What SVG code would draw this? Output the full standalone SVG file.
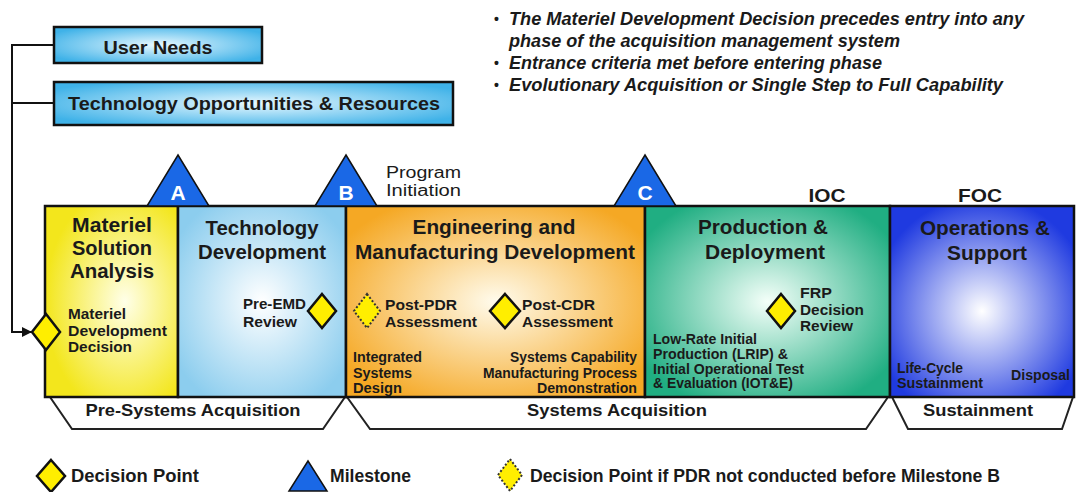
<svg xmlns="http://www.w3.org/2000/svg" width="1077" height="492" viewBox="0 0 1077 492">
<style>
text{font-family:"Liberation Sans",Arial,sans-serif;fill:#1a1a1a}
.t{font-weight:bold;font-size:20px;text-anchor:middle}
.s{font-weight:bold;font-size:14px}
.b{font-weight:bold;font-style:italic;font-size:18px}
.bu{font-weight:bold;font-size:14px}
.lg{font-weight:bold;font-size:18px}
.ph{stroke:#111;stroke-width:2.5}
.dp{fill:#ffee00;stroke:#111;stroke-width:2.5}
.dd{fill:#ffee00;stroke:#333;stroke-width:2;stroke-dasharray:2 2}
.ms{fill:#1a68e6;stroke:#111;stroke-width:1.5}
.ml{font-weight:bold;font-size:21px;fill:#fff;text-anchor:middle}
.tz{fill:#fff;stroke:#222;stroke-width:2}
.bl{font-weight:bold;font-size:17px;text-anchor:middle}
.cn{fill:none;stroke:#111;stroke-width:2}
.tb{stroke:#111;stroke-width:2.5}
</style>
<defs>
<radialGradient id="gTop" cx="0.5" cy="0.5" r="0.6"><stop offset="0" stop-color="#e8f8ff"/><stop offset="1" stop-color="#3fb2e8"/></radialGradient>
<radialGradient id="gMSA" cx="0.6" cy="0.5" r="0.6"><stop offset="0" stop-color="#ffffe8"/><stop offset="1" stop-color="#f3e61c"/></radialGradient>
<radialGradient id="gTD" cx="0.5" cy="0.5" r="0.6"><stop offset="0" stop-color="#ffffff"/><stop offset="1" stop-color="#8ccdee"/></radialGradient>
<radialGradient id="gEMD" cx="0.5" cy="0.5" r="0.6"><stop offset="0" stop-color="#fffbec"/><stop offset="1" stop-color="#f5a824"/></radialGradient>
<radialGradient id="gPD" cx="0.5" cy="0.5" r="0.6"><stop offset="0" stop-color="#f4fff9"/><stop offset="1" stop-color="#20ae82"/></radialGradient>
<radialGradient id="gOS" cx="0.5" cy="0.55" r="0.6"><stop offset="0" stop-color="#ffffff"/><stop offset="1" stop-color="#1f3ae0"/></radialGradient>
<marker id="arr" viewBox="0 0 10 10" refX="9" refY="5" markerWidth="5" markerHeight="5" orient="auto"><path d="M0,0 L10,5 L0,10 z" fill="#111"/></marker>
</defs>
<rect width="1077" height="492" fill="#fff"/>

<g id="bullets">
<text class="bu" x="494" y="24">•</text>
<text class="b" x="509" y="25" textLength="515" lengthAdjust="spacingAndGlyphs">The Materiel Development Decision precedes entry into any</text>
<text class="b" x="509" y="47" textLength="391" lengthAdjust="spacingAndGlyphs">phase of the acquisition management system</text>
<text class="bu" x="494" y="68">•</text>
<text class="b" x="509" y="69" textLength="373" lengthAdjust="spacingAndGlyphs">Entrance criteria met before entering phase</text>
<text class="bu" x="494" y="90">•</text>
<text class="b" x="509" y="91" textLength="494" lengthAdjust="spacingAndGlyphs">Evolutionary Acquisition or Single Step to Full Capability</text>
</g>

<g id="connectors">
<polyline class="cn" points="54,45 12,45 12,332 31,332" marker-end="url(#arr)"/>
<line class="cn" x1="12" y1="103" x2="54" y2="103"/>
</g>

<g id="user-needs">
<rect class="tb" x="54" y="27" width="208" height="36" fill="url(#gTop)"/>
<text x="158" y="54" font-size="18" font-weight="bold" text-anchor="middle" textLength="109" lengthAdjust="spacingAndGlyphs">User Needs</text>
</g>
<g id="tech-opps">
<rect class="tb" x="54" y="82" width="399" height="43" fill="url(#gTop)"/>
<text x="254" y="110" font-size="18" font-weight="bold" text-anchor="middle" textLength="372" lengthAdjust="spacingAndGlyphs">Technology Opportunities &amp; Resources</text>
</g>

<g id="pre-systems">
<polygon class="tz" points="50,397 345,397 323,429 72,429"/>
<text class="bl" x="193" y="416" textLength="215" lengthAdjust="spacingAndGlyphs">Pre-Systems Acquisition</text>
</g>
<g id="systems-acq">
<polygon class="tz" points="347,397 888,397 866,429 370,429"/>
<text class="bl" x="617" y="416" textLength="180" lengthAdjust="spacingAndGlyphs">Systems Acquisition</text>
</g>
<g id="sustainment">
<polygon class="tz" points="892,397 1073,397 1062,429 908,429"/>
<text class="bl" x="978" y="416" textLength="110" lengthAdjust="spacingAndGlyphs">Sustainment</text>
</g>

<g id="msa">
<rect class="ph" x="45" y="206" width="133" height="191" fill="url(#gMSA)"/>
<text class="t" x="112" y="232" textLength="80" lengthAdjust="spacingAndGlyphs">Materiel</text>
<text class="t" x="112" y="255" textLength="80" lengthAdjust="spacingAndGlyphs">Solution</text>
<text class="t" x="112" y="278" textLength="84" lengthAdjust="spacingAndGlyphs">Analysis</text>
<text class="s" x="68" y="319" fill="#2e2e10" textLength="58" lengthAdjust="spacingAndGlyphs">Materiel</text>
<text class="s" x="68" y="336" fill="#2e2e10" textLength="99" lengthAdjust="spacingAndGlyphs">Development</text>
<text class="s" x="68" y="352" fill="#2e2e10" textLength="64" lengthAdjust="spacingAndGlyphs">Decision</text>
</g>
<g id="td">
<rect class="ph" x="178" y="206" width="168" height="191" fill="url(#gTD)"/>
<text class="t" x="262" y="235" textLength="113" lengthAdjust="spacingAndGlyphs">Technology</text>
<text class="t" x="262" y="259" textLength="128" lengthAdjust="spacingAndGlyphs">Development</text>
<text class="s" x="243" y="309" textLength="63" lengthAdjust="spacingAndGlyphs">Pre-EMD</text>
<text class="s" x="243" y="327" textLength="54" lengthAdjust="spacingAndGlyphs">Review</text>
</g>
<g id="emd">
<rect class="ph" x="346" y="206" width="299" height="191" fill="url(#gEMD)"/>
<text class="t" x="494" y="234" textLength="163" lengthAdjust="spacingAndGlyphs">Engineering and</text>
<text class="t" x="495" y="259" textLength="280" lengthAdjust="spacingAndGlyphs">Manufacturing Development</text>
<text class="s" x="385" y="310" textLength="72" lengthAdjust="spacingAndGlyphs">Post-PDR</text>
<text class="s" x="385" y="327" textLength="92" lengthAdjust="spacingAndGlyphs">Assessment</text>
<text class="s" x="522" y="310" textLength="73" lengthAdjust="spacingAndGlyphs">Post-CDR</text>
<text class="s" x="522" y="327" textLength="91" lengthAdjust="spacingAndGlyphs">Assessment</text>
<text class="s" x="353" y="362" font-size="13" textLength="69" lengthAdjust="spacingAndGlyphs">Integrated</text>
<text class="s" x="353" y="378" font-size="13" textLength="59" lengthAdjust="spacingAndGlyphs">Systems</text>
<text class="s" x="353" y="393" font-size="13" textLength="49" lengthAdjust="spacingAndGlyphs">Design</text>
<text class="s" x="637" y="362" font-size="13" text-anchor="end" textLength="127" lengthAdjust="spacingAndGlyphs">Systems Capability</text>
<text class="s" x="637" y="378" font-size="13" text-anchor="end" textLength="154" lengthAdjust="spacingAndGlyphs">Manufacturing Process</text>
<text class="s" x="637" y="393" font-size="13" text-anchor="end" textLength="100" lengthAdjust="spacingAndGlyphs">Demonstration</text>
</g>
<g id="pd">
<rect class="ph" x="645" y="206" width="245" height="191" fill="url(#gPD)"/>
<text class="t" x="763" y="234" textLength="130" lengthAdjust="spacingAndGlyphs">Production &amp;</text>
<text class="t" x="765" y="259" textLength="120" lengthAdjust="spacingAndGlyphs">Deployment</text>
<text class="s" x="800" y="298" textLength="32" lengthAdjust="spacingAndGlyphs">FRP</text>
<text class="s" x="800" y="315" textLength="64" lengthAdjust="spacingAndGlyphs">Decision</text>
<text class="s" x="800" y="331" textLength="53" lengthAdjust="spacingAndGlyphs">Review</text>
<text class="s" x="653" y="344" font-size="13" fill="#14402e" textLength="104" lengthAdjust="spacingAndGlyphs">Low-Rate Initial</text>
<text class="s" x="653" y="359" font-size="13" fill="#14402e" textLength="135" lengthAdjust="spacingAndGlyphs">Production  (LRIP) &amp;</text>
<text class="s" x="653" y="374" font-size="13" fill="#14402e" textLength="151" lengthAdjust="spacingAndGlyphs">Initial Operational Test</text>
<text class="s" x="653" y="388" font-size="13" fill="#14402e" textLength="140" lengthAdjust="spacingAndGlyphs">&amp; Evaluation (IOT&amp;E)</text>
</g>
<g id="os">
<rect class="ph" x="890" y="206" width="184" height="191" fill="url(#gOS)"/>
<text class="t" x="985" y="235" fill="#10104a" textLength="130" lengthAdjust="spacingAndGlyphs">Operations &amp;</text>
<text class="t" x="987" y="260" textLength="80" lengthAdjust="spacingAndGlyphs">Support</text>
<text class="s" x="897" y="373" font-size="13" fill="#101050" textLength="66" lengthAdjust="spacingAndGlyphs">Life-Cycle</text>
<text class="s" x="897" y="388" font-size="13" fill="#101050" textLength="86" lengthAdjust="spacingAndGlyphs">Sustainment</text>
<text class="s" x="1070" y="380" font-size="13" fill="#101050" text-anchor="end" textLength="59" lengthAdjust="spacingAndGlyphs">Disposal</text>
</g>

<g id="decision-points">
<polygon class="dp" points="46,314 60,332 46,350 32,332"/>
<polygon class="dp" points="322,294 336,311 322,328 308,311"/>
<polygon class="dd" points="367,294 380,311 367,328 354,311"/>
<polygon class="dp" points="505,294 520,311 505,328 490,311"/>
<polygon class="dp" points="781,294 795,311 781,328 767,311"/>
</g>

<g id="milestone-a">
<polygon class="ms" points="178,155 209,206 147,206"/>
<text class="ml" x="178" y="200">A</text>
</g>
<g id="milestone-b">
<polygon class="ms" points="346,155 377,206 315,206"/>
<text class="ml" x="346" y="200">B</text>
<text x="386" y="178" font-size="16" textLength="75" lengthAdjust="spacingAndGlyphs">Program</text>
<text x="386" y="196" font-size="16" textLength="75" lengthAdjust="spacingAndGlyphs">Initiation</text>
</g>
<g id="milestone-c">
<polygon class="ms" points="645,155 676,206 614,206"/>
<text class="ml" x="645" y="200">C</text>
</g>
<g id="ioc"><text x="827" y="202" font-size="19" font-weight="bold" text-anchor="middle" textLength="37" lengthAdjust="spacingAndGlyphs">IOC</text></g>
<g id="foc"><text x="980" y="202" font-size="19" font-weight="bold" text-anchor="middle" textLength="44" lengthAdjust="spacingAndGlyphs">FOC</text></g>

<g id="legend">
<polygon class="dp" points="51,460 65,476 51,492 37,476"/>
<text class="lg" x="71" y="482" textLength="128" lengthAdjust="spacingAndGlyphs">Decision Point</text>
<polygon class="ms" points="308,461 327,491 289,491"/>
<text class="lg" x="330" y="482" textLength="81" lengthAdjust="spacingAndGlyphs">Milestone</text>
<polygon class="dd" points="510,459 522,475 510,491 498,475"/>
<text class="lg" x="530" y="482" textLength="470" lengthAdjust="spacingAndGlyphs">Decision Point if PDR not conducted before Milestone B</text>
</g>
</svg>
